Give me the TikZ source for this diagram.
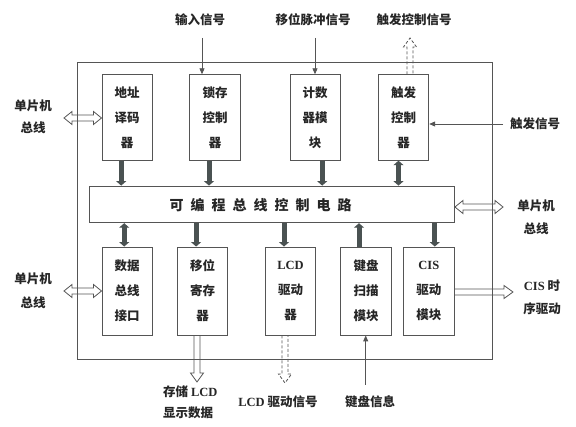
\documentclass[tikz,border=0pt]{standalone}
\usepackage{fontspec}
\setmainfont{Liberation Serif}
\newfontfamily\cjk{Noto Sans CJK SC}
\usetikzlibrary{arrows.meta,calc}
\definecolor{lineg}{HTML}{555555}
\definecolor{darkar}{HTML}{4A5252}
\newcommand\lat[1]{{\rmfamily\bfseries #1}}
\newcommand\hdoublearrow[2]{\draw[hollow] let \p1=(#1), \p2=(#2) in
  (\x1,\y1) -- (\x1+8pt,\y1+6.5pt) -- (\x1+8pt,\y1+3pt) -- (\x2-8pt,\y1+3pt) -- (\x2-8pt,\y1+6.5pt) -- (\x2,\y1)
  -- (\x2-8pt,\y1-6.5pt) -- (\x2-8pt,\y1-3pt) -- (\x1+8pt,\y1-3pt) -- (\x1+8pt,\y1-6.5pt) -- cycle;}
\newcommand\hrightarrow[2]{\draw[hollow] let \p1=(#1), \p2=(#2) in
  (\x1,\y1+3pt) -- (\x2-9pt,\y1+3pt) -- (\x2-9pt,\y1+6.5pt) -- (\x2,\y1)
  -- (\x2-9pt,\y1-6.5pt) -- (\x2-9pt,\y1-3pt) -- (\x1,\y1-3pt);}
\newcommand\vdownarrow[3][]{\draw[hollow,#1] let \p1=(#2), \p2=(#3) in
  (\x1-3pt,\y1) -- (\x1-3pt,\y2+9pt) -- (\x1-6.5pt,\y2+9pt) -- (\x1,\y2)
  -- (\x1+6.5pt,\y2+9pt) -- (\x1+3pt,\y2+9pt) -- (\x1+3pt,\y1);}
\newcommand\vuparrow[3][]{\draw[hollow,#1] let \p1=(#2), \p2=(#3) in
  (\x1-3pt,\y1) -- (\x1-3pt,\y2-9pt) -- (\x1-6.5pt,\y2-9pt) -- (\x1,\y2)
  -- (\x1+6.5pt,\y2-9pt) -- (\x1+3pt,\y2-9pt) -- (\x1+3pt,\y1);}
\begin{document}
\begin{tikzpicture}[x=1pt,y=-1pt,
  every node/.style={font=\cjk\bfseries\fontsize{12.5pt}{25pt}\selectfont, text=black!85},
  box/.style={draw=lineg, line width=0.9pt, minimum width=50.5pt, minimum height=85.5pt, inner sep=0pt, align=center},
  lbl/.style={inner sep=0pt, align=center},
  hollow/.style={draw=lineg, line width=0.8pt, line join=miter},
  thick arrow/.style={draw=darkar, line width=5pt, -{Triangle[length=4.5pt,width=10pt]}},
  thick double/.style={draw=darkar, line width=5pt, {Triangle[length=4.5pt,width=10pt]}-{Triangle[length=4.5pt,width=10pt]}},
  thin arrow/.style={draw=lineg, line width=0.9pt, -{Triangle[length=6pt,width=5pt]}}]
\useasboundingbox (0,0) rectangle (576,427);
\fill[white] (0,0) rectangle (576,427);

% outer frame
\node[draw=lineg, line width=0.9pt, minimum width=415pt, minimum height=297pt, inner sep=0pt] (frame) at (284.5,210.5) {};

% top boxes
\node[box] (b1) at (127.2,117.5) {地址\\译码\\器};
\node[box] (b2) at (215,117.5) {锁存\\控制\\器};
\node[box] (b3) at (315.2,117.5) {计数\\器模\\块};
\node[box] (b4) at (403.5,117.5) {触发\\控制\\器};

% middle bar
\node[draw=lineg, line width=0.9pt, minimum width=365pt, minimum height=36.7pt, inner sep=0pt] (bar) at (272,204.4) {};
\node[lbl, font=\cjk\bfseries\fontsize{14pt}{16pt}\selectfont] (bartext) at (260.5,205.5)
  {可\hspace{7pt}编\hspace{7pt}程\hspace{7pt}总\hspace{7pt}线\hspace{7pt}控\hspace{7pt}制\hspace{7pt}电\hspace{7pt}路};

% bottom boxes
\node[box, minimum height=88pt] (c1) at (127.2,291) {数据\\总线\\接口};
\node[box, minimum height=88pt] (c2) at (202.6,291) {移位\\寄存\\器};
\node[box, minimum height=88pt] (c3) at (290.5,291) {\lat{LCD}\\驱动\\器};
\node[box, minimum height=88pt] (c4) at (366,291) {键盘\\扫描\\模块};
\node[box, minimum height=88pt] (c5) at (428.8,291) {\lat{CIS}\\驱动\\模块};

% outside labels
\node[lbl, font=\cjk\bfseries\fontsize{12.5pt}{22pt}\selectfont] (lb1) at (33,117) {单片机\\总线};
\node[lbl, font=\cjk\bfseries\fontsize{12.5pt}{24pt}\selectfont] (lb2) at (33,291) {单片机\\总线};
\node[lbl, font=\cjk\bfseries\fontsize{12.5pt}{23pt}\selectfont] (rb) at (536,217.5) {单片机\\总线};
\node[lbl, font=\cjk\bfseries\fontsize{12.5pt}{23pt}\selectfont] (cis) at (542,297.5) {\lat{CIS} 时\\序驱动};
\node[lbl] (in1) at (200,20) {输入信号};
\node[lbl] (in2) at (313,20) {移位脉冲信号};
\node[lbl] (in3) at (414,20) {触发控制信号};
\node[lbl] (trig) at (535,124) {触发信号};
\node[lbl, align=left, anchor=west, font=\cjk\bfseries\fontsize{12.5pt}{21pt}\selectfont] (store) at (163,402.5) {存储 \lat{LCD}\\显示数据};
\node[lbl] (lcdsig) at (278,402) {\lat{LCD} 驱动信号};
\node[lbl] (kbd) at (370,402) {键盘信息};

% anchor points of the thick arrows
\coordinate (t1) at ($(b1.south)+(-6,0)$);
\coordinate (t2) at ($(b2.south)+(-6,0)$);
\coordinate (t3) at ($(b3.south)+(7,0)$);
\coordinate (t4) at ($(b4.south)+(-5,0)$);
\coordinate (u1) at ($(c1.north)+(-3,0)$);
\coordinate (u2) at ($(c2.north)+(-6.5,0)$);
\coordinate (u3) at ($(c3.north)+(-6.5,0)$);
\coordinate (u4) at ($(c4.north)+(-7,0)$);
\coordinate (u5) at ($(c5.north)+(6,0)$);

% thick dark arrows, top row to bar
\draw[thick arrow] (t1) -- (t1 |- bar.north);
\draw[thick arrow] (t2) -- (t2 |- bar.north);
\draw[thick arrow] (t3) -- (t3 |- bar.north);
\draw[thick double] (t4) -- (t4 |- bar.north);
% bar to bottom row
\draw[thick double] (u1 |- bar.south) -- (u1);
\draw[thick arrow] (u2 |- bar.south) -- (u2);
\draw[thick arrow] (u3 |- bar.south) -- (u3);
\draw[thick arrow] (u4) -- (u4 |- bar.south);
\draw[thick arrow] (u5 |- bar.south) -- (u5);

% thin input arrows
\coordinate (in1s) at (202,38);
\coordinate (in2s) at (315,38);
\coordinate (trigs) at (503,124);
\coordinate (kbds) at (365.7,385);
\draw[thin arrow] (in1s) -- (in1s |- b2.north);
\draw[thin arrow] (in2s) -- (in2s |- b3.north);
\draw[thin arrow] (trigs) -- (trigs -| b4.east);
\draw[thin arrow] (kbds) -- (kbds |- c4.south);

% hollow arrows
\coordinate (l1) at (64,118);
\coordinate (l2) at (64,291);
\hdoublearrow{l1}{l1 -| b1.west}
\hdoublearrow{l2}{l2 -| c1.west}
\coordinate (r1) at (503,207);
\hdoublearrow{r1 -| bar.east}{r1}
\coordinate (r2) at (513,292);
\hrightarrow{r2 -| c5.east}{r2}
\coordinate (sd) at (197,382);
\vdownarrow{sd |- c2.south}{sd}
\coordinate (ld) at (285,383);
\vdownarrow[dashed, dash pattern=on 3pt off 2pt]{ld |- c3.south}{ld}
\coordinate (tu) at (410,38);
\vuparrow[dashed, dash pattern=on 3pt off 2pt]{tu |- b4.north}{tu}
\end{tikzpicture}
\end{document}
